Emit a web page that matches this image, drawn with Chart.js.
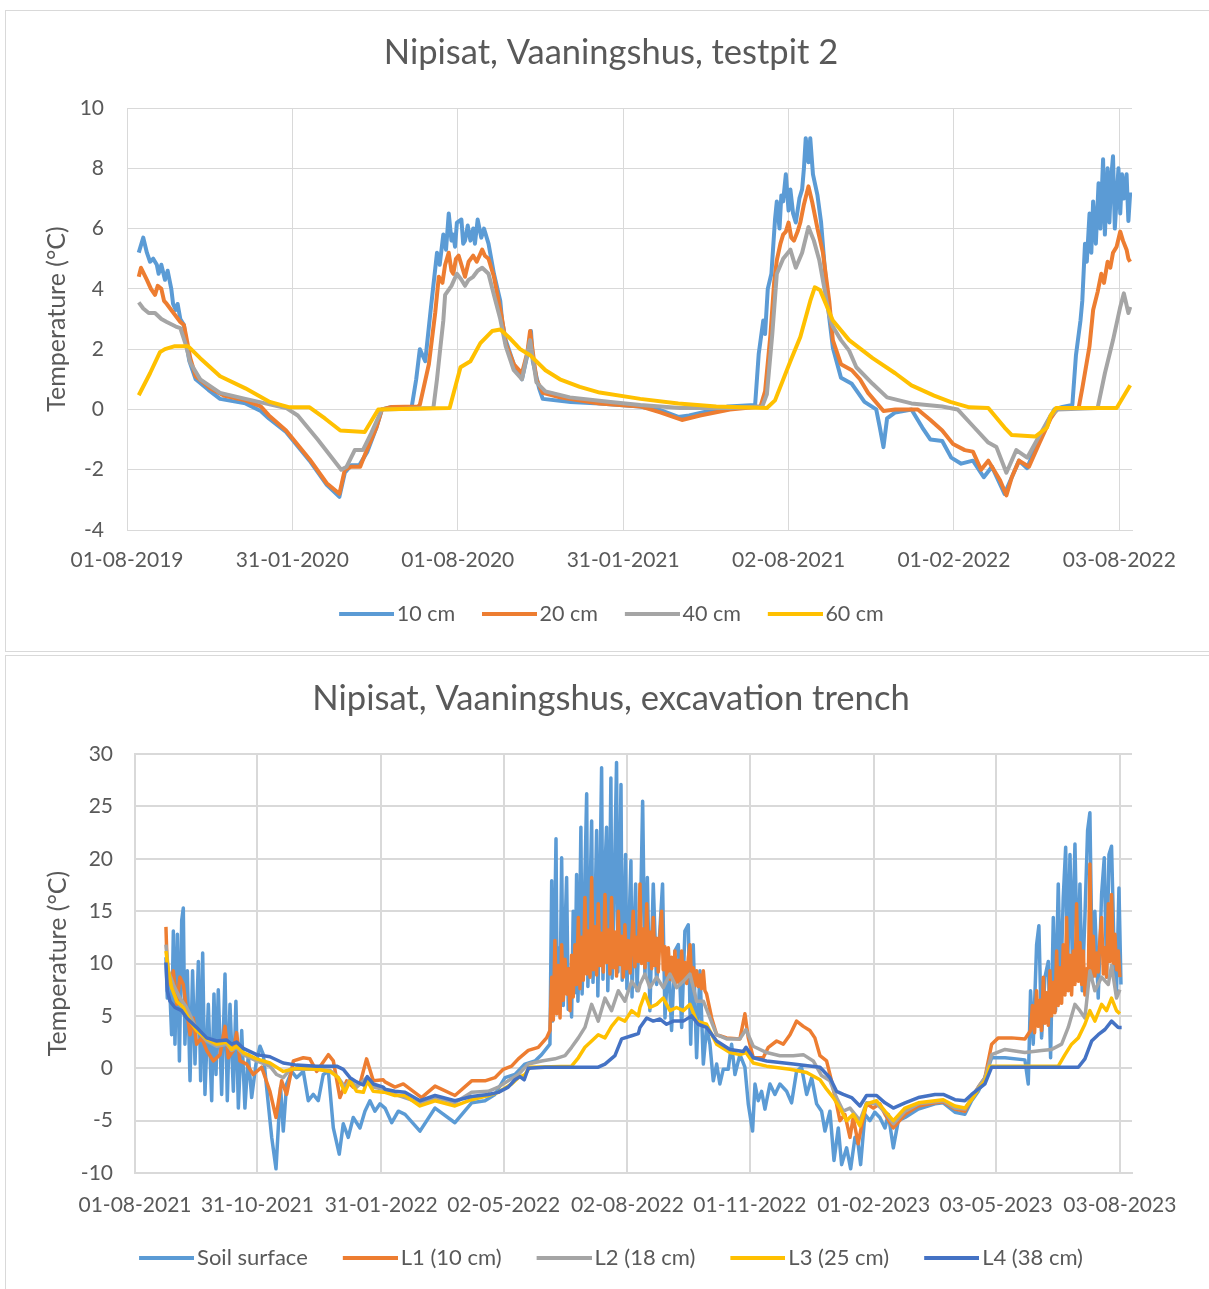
<!DOCTYPE html>
<html lang="en">

<head>
    <meta charset="UTF-8">
    <title>Nipisat, Vaaningshus</title>

    <script src="https://cdn.jsdelivr.net/npm/chart.js"></script> <!-- Chart.js -->

    <style>
        html, body { margin: 0; padding: 0; background: #fff; overflow: hidden; }
        .frame { position: absolute; left: 5px; width: 1216px; border: 1px solid #d9d9d9; box-sizing: border-box; }
        #frameTop { top: 10px; height: 642px; }
        #frameBottom { top: 655px; height: 640px; }
        canvas { position: absolute; left: 0; }
        #pitChart { top: 0; }
        #trenchChart { top: 655px; }
    </style>
</head>

<body>

    <div class="frame" id="frameTop"></div>
    <div class="frame" id="frameBottom"></div>

    <canvas id="pitChart" width="1222" height="640"></canvas>
    <canvas id="trenchChart" width="1222" height="630"></canvas>

<script>

    // ---- Testpit 2 (x = days after 01-08-2019) ----

    var pitTickLabels = ['01-08-2019', '31-01-2020', '01-08-2020', '31-01-2021', '02-08-2021', '01-02-2022', '03-08-2022'];
    var pitLastDay = 1112;

    var pit10 = [[13,5.2],[18,5.7],[22,5.2],[25.5,4.9],[29,5.0],[33,4.8],[35,4.5],[38,4.8],[42,4.3],[45,4.6],[49,4.0],[51,3.5],[54,3.3],[56,3.5],[59,3.0],[63,2.8],[65,2.3],[69,1.6],[76,1.0],[90,0.65],[103,0.35],[131,0.2],[148,-0.05],[157,-0.3],[176,-0.75],[202,-1.7],[221,-2.5],[235,-2.9],[241,-2.1],[248,-1.85],[257,-1.85],[266,-1.4],[276,-0.6],[282,0],[293,0.08],[315,0.08],[320,1.0],[324,2.0],[330,1.6],[336,3.3],[343,5.2],[346,4.8],[350,5.8],[353,5.3],[356,6.5],[359,5.6],[361,5.8],[363,5.4],[365,6.2],[370,6.3],[372,5.5],[374,5.6],[377,6.1],[380,5.6],[383,6.0],[385,5.5],[388,6.3],[392,5.7],[395,6.0],[400,5.5],[406,4.5],[413,3.6],[415,2.95],[419,2.3],[428,1.5],[437,1.0],[443,1.8],[447,2.6],[449,1.6],[456,0.7],[460,0.35],[491,0.25],[523,0.2],[567,0.1],[588,0],[610,-0.25],[622,-0.2],[644,-0.05],[665,0.1],[695,0.15],[699,1.85],[704,2.95],[706,2.5],[709,4.0],[713,4.5],[715,5.4],[717,6.3],[719,6.9],[722,6.0],[724,7.1],[726,6.9],[729,7.8],[732,6.6],[734,7.3],[737,6.5],[740,6.2],[744,7.0],[747,7.3],[749,8.0],[751,9.0],[754,8.2],[756,9.0],[759,7.8],[764,7.1],[768,6.2],[772,4.7],[777,3.05],[781,2.05],[790,1.05],[802,0.85],[816,0.25],[829,0],[833,-0.6],[837,-1.25],[841,-0.3],[850,-0.1],[868,0],[880,-0.6],[889,-1.0],[902,-1.05],[912,-1.6],[923,-1.8],[936,-1.7],[948,-2.25],[957,-1.9],[971,-2.8],[979,-2.25],[987,-1.7],[996,-1.95],[1005,-1.25],[1018,-0.45],[1026,0],[1035,0.08],[1046,0.15],[1050,1.8],[1055,2.95],[1057,3.6],[1060,5.5],[1062,4.9],[1065,6.5],[1067,5.2],[1069,6.9],[1072,5.5],[1075,7.5],[1077,6.0],[1080,8.3],[1082,5.8],[1085,8.0],[1087,6.2],[1089,7.7],[1091,8.4],[1093,6.0],[1097,8.0],[1099,6.5],[1101,7.8],[1103,7.0],[1106,7.8],[1108,6.25],[1110,7.2]];

    var pit20 = [[13,4.4],[15.5,4.7],[22,4.3],[26.5,4.0],[31,3.8],[34,4.1],[38,4.0],[41,3.6],[44,3.5],[49,3.3],[54,3.1],[59,2.9],[63,2.8],[65,2.5],[70,1.7],[76,1.1],[92,0.7],[108,0.45],[131,0.3],[148,0.1],[157,-0.2],[176,-0.7],[202,-1.65],[221,-2.45],[235,-2.8],[241,-2.0],[248,-1.9],[258,-1.9],[266,-1.3],[276,-0.6],[282,0],[293,0.08],[322,0.1],[324,0.15],[334,1.5],[341,3.2],[345,4.4],[349,4.2],[352,4.8],[356,5.2],[359,4.6],[361,4.5],[364,5.0],[367,5.1],[371,4.7],[374,4.4],[378,4.9],[383,5.1],[387,4.9],[393,5.3],[396,5.1],[400,5.0],[406,4.4],[415,3.0],[419,2.2],[428,1.5],[437,1.2],[443,1.9],[446,2.6],[453,1.0],[460,0.55],[479,0.4],[523,0.2],[568,0.1],[590,-0.1],[614,-0.35],[634,-0.2],[667,0],[701,0.1],[706,0.6],[712,2.5],[716,4.2],[719,4.95],[723,5.5],[726,5.8],[729,5.9],[732,6.2],[735,5.7],[738,5.6],[742,5.9],[745,6.2],[749,6.8],[754,7.4],[758,6.9],[764,6.0],[770,5.2],[777,3.6],[781,2.3],[790,1.5],[802,1.3],[811,1.0],[820,0.55],[837,-0.05],[850,0],[875,0],[889,-0.35],[902,-0.7],[914,-1.15],[927,-1.35],[936,-1.4],[945,-2.0],[953,-1.7],[966,-2.35],[973,-2.85],[979,-2.25],[987,-1.7],[998,-1.9],[1009,-1.15],[1022,-0.3],[1030,0.05],[1053,0.05],[1057,0.7],[1065,2.1],[1069,3.3],[1074,3.9],[1078,4.5],[1081,4.2],[1085,4.9],[1088,4.7],[1091,5.2],[1095,5.4],[1099,5.9],[1102,5.6],[1106,5.3],[1108,5.0],[1110,4.9]];

    var pit40 = [[13,3.55],[18,3.35],[24,3.2],[31,3.2],[38,3.0],[44,2.9],[54,2.75],[59,2.7],[65,2.15],[70,1.55],[81,1.0],[103,0.55],[131,0.35],[153,0.2],[176,0.05],[189,-0.2],[211,-1.0],[237,-2.0],[243,-1.9],[252,-1.35],[261,-1.35],[270,-0.8],[282,0],[339,0.05],[343,1.0],[346,1.85],[350,2.95],[352,3.8],[359,4.1],[365,4.5],[370,4.3],[374,4.1],[378,4.3],[383,4.4],[388,4.6],[393,4.7],[400,4.5],[406,3.8],[413,3.0],[419,2.1],[428,1.3],[437,1.0],[446,2.3],[453,0.9],[463,0.6],[490,0.4],[535,0.25],[568,0.15],[612,0.05],[667,0.05],[703,0.1],[708,0.5],[714,2.5],[719,4.5],[726,5.0],[734,5.3],[740,4.7],[747,5.2],[754,6.05],[760,5.6],[766,4.95],[772,3.95],[777,3.1],[781,2.75],[790,2.3],[799,1.95],[807,1.4],[825,0.85],[841,0.4],[868,0.2],[902,0.1],[919,0],[936,-0.55],[953,-1.1],[962,-1.25],[973,-2.1],[984,-1.35],[996,-1.6],[1009,-0.9],[1022,-0.2],[1030,0],[1074,0.05],[1082,1.2],[1091,2.3],[1099,3.4],[1103,3.85],[1108,3.2],[1110,3.4]];

    var pit60 = [[13,0.47],[25.5,1.2],[36.5,1.9],[42,2.0],[53,2.1],[67.5,2.1],[81,1.7],[103,1.1],[131,0.7],[158,0.25],[180,0.07],[202,0.07],[219,-0.3],[236,-0.7],[263,-0.75],[271,-0.35],[278,0],[357,0.05],[369,1.4],[380,1.6],[391,2.2],[404,2.6],[413,2.65],[424,2.35],[435,2.0],[446,1.8],[463,1.3],[479,1.0],[501,0.75],[523,0.56],[568,0.35],[610,0.2],[652,0.1],[708,0.05],[717,0.3],[734,1.6],[745,2.4],[756,3.6],[761,4.05],[767,3.95],[781,2.95],[799,2.3],[825,1.7],[850,1.2],[868,0.8],[893,0.46],[911,0.25],[932,0.07],[953,0.05],[971,-0.6],[979,-0.85],[1005,-0.9],[1018,-0.6],[1022,-0.2],[1028,0.05],[1095,0.05],[1110,0.8]];

    // ---- Excavation trench (x = days after 01-08-2021) ----

    var trenchTickLabels = ['01-08-2021', '31-10-2021', '31-01-2022', '02-05-2022', '02-08-2022', '01-11-2022', '01-02-2023', '03-05-2023', '03-08-2023'];
    var trenchLastDay = 741;

    var trenchSoil = [[23,10.6],[24,6.7],[25.5,8.7],[27.2,3.2],[28.5,13.1],[29.7,2.3],[31.5,12.8],[33,0.7],[34.7,14.1],[35.9,15.3],[37.1,2.3],[38.9,9.3],[40.9,-1.2],[42.8,9.3],[44.6,0.4],[47.1,10.2],[48.8,-1.2],[50.3,11.0],[52,-2.5],[54.5,6.1],[57,-3.1],[58.7,7.1],[60.2,-0.6],[61.9,7.5],[64.4,-2.5],[66.9,9.0],[68.6,-3.1],[70.6,6.1],[73.1,-2.2],[75,6.4],[76.8,-3.8],[79.3,3.6],[81.7,-3.8],[84.2,1.3],[86.7,-2.8],[89.9,0.4],[92.9,2.1],[95.4,1.3],[97.8,-1.8],[101.6,-6.6],[104.8,-9.6],[106.5,-5.7],[108.2,-1.8],[110.2,-6.0],[112.7,-1.5],[116.4,-0.3],[120.1,-0.9],[125.1,-0.3],[128.8,-3.1],[132.5,-2.5],[136.2,-3.1],[139.9,-0.6],[143.7,-0.3],[147.4,-5.7],[151.8,-8.2],[154.8,-5.3],[158.5,-6.6],[162.2,-4.7],[167.2,-5.7],[170.9,-4.1],[174.6,-3.1],[178.3,-4.1],[182.1,-3.4],
        [185.8,-3.8],[190.8,-5.2],[195.7,-4.1],[200.7,-4.4],[211.8,-6.0],[223,-3.8],[237.8,-5.2],[250.2,-3.3],[260.1,-3.1],[267.5,-2.5],[275,-0.9],[282.4,-0.6],[289.8,0.4],[297.3,0.7],[302.2,1.3],[308.4,2.3],
        [309.7,17.9],[310.3,4.5],[311.5,9.8],[312.9,21.9],[313.8,6.2],[314.6,11.5],[315.8,5.8],[317.1,20.1],[318.3,6.0],[319.5,12.8],[320.8,18.2],[322,5.6],[323.3,9.5],[324.5,4.9],[325.7,15.0],[327,7.2],[328.2,18.5],[329.2,6.4],[330.3,12.0],[331.4,23.0],[332.3,7.1],[333.6,13.5],[335.7,26.2],[336.6,7.8],[337.8,14.2],[339.4,23.6],[340.4,8.2],[341.6,12.9],[343.1,22.7],[344,6.9],[345.3,15.8],[346.8,28.7],[347.8,8.5],[348.8,17.5],[350.5,23.0],[351.4,7.4],[352.5,13.8],[353.7,27.7],[354.6,8.6],[355.8,14.6],[357.9,29.2],[358.9,9.2],[360,16.4],[361.2,27.1],[362.1,8.4],[363.3,13.2],[364.6,20.4],[365.6,7.6],[366.8,12.1],[368.6,19.8],[369.4,6.8],[370.5,11.9],[372.1,17.6],[373.1,7.4],[374.1,11.0],
        [375.3,11.8],[377.3,25.5],[379,8.7],[380.8,18.2],[382.7,5.5],[385.2,17.6],[387.7,8.0],[390.2,13.4],[392.1,17.6],[393.9,4.8],[396.4,10.6],[398.8,3.6],[401.3,11.2],[403.8,11.8],[406.3,3.9],[408.7,13.1],[411.2,13.7],[413,2.3],[414.9,11.8],[417.4,1.0],[419.9,9.3],[422.4,0.4],[424.8,3.9],[427.3,2.3],[429.8,-1.2],[432.3,0.4],[434.7,-1.5],[437.2,-0.1],[440.9,-0.1],[443.4,2.3],[445.9,-0.6],[449.6,1.3],[453.3,0.1],[455.8,-3.4],[459,-6.0],[460.8,-1.5],[463.2,-3.1],[465.7,-2.2],[468.2,-3.9],[471.9,-1.5],[475.6,-2.5],[479.3,-1.5],[484.3,-2.2],[488,-3.3],[491.7,-0.3],[495.4,0.1],[499.2,-2.5],[502.9,-0.9],[506.6,-3.4],[510.3,-4.1],[512.8,-6.0],[516.5,-4.1],[519.5,-8.8],[522.7,-5.7],[525.2,-9.2],[528.9,-7.6],[531.9,-9.6],[535.1,-6.6],[537.5,-7.3],[539.3,-9.2],[542.5,-4.4],[546.2,-5.0],[549.9,-4.2],[553.6,-4.7],
        [557.4,-5.7],[559.9,-4.4],[563.6,-7.6],[567.3,-5.0],[572.3,-4.7],[582.2,-3.9],[594.6,-3.4],[600.7,-3.3],[609.4,-4.2],[616.8,-4.4],[621.8,-3.1],[626.8,-2.2],[631.7,-0.9],[636.7,1.0],[646.6,1.0],[661.4,0.8],[663.9,-1.5],[665.6,7.4],[667.6,2.3],[670.1,11.8],[671.8,13.6],[673.8,2.9],[676.3,8.7],[678.8,10.2],[680.5,1.0],[682.5,14.4],[684.2,5.5],[686.2,17.6],[687.9,7.1],[689.9,16.3],[691.7,21.1],[693.1,8.7],[694.9,20.4],[696.6,10.6],[698.6,21.4],[700.6,8.7],[702.3,17.6],[704,7.4],[706,14.4],[708,22.7],[709.7,24.4],[711.5,8.7],[713.4,15.0],[715.9,6.7],[718.4,16.6],[720.4,20.1],[722.1,8.7],[723.9,20.4],[725.8,21.2],[727.8,10.6],[729.5,7.4],[731.3,17.2],[732.8,8.0]];

    var trenchL1 = [[23,13.5],[24,9.3],[26,8.0],[28.5,9.3],[31,6.1],[33.4,8.7],[35.9,8.0],[38.4,5.5],[40.9,3.2],[43.3,4.8],[45.8,2.3],[49.5,2.9],[53.3,1.7],[58.2,0.7],[63.2,1.3],[66.9,4.0],[69.4,1.0],[73.1,1.7],[75.5,3.4],[78,0.7],[83,0.4],[87.9,-0.6],[94.1,0.1],[100.3,-2.2],[104.8,-4.7],[109,-1.2],[112.7,-2.5],[117.7,0.7],[125.1,1.0],[130,0.9],[135,-0.3],[143.7,1.3],[147.4,0.7],[152.3,-2.8],[157.3,-1.2],[162.2,-1.8],[167.2,-1.5],[172.1,0.9],[177.1,-1.2],[184.5,-1.1],
        [185.8,-1.3],[193.2,-1.8],[199.4,-1.5],[213,-2.8],[223,-1.7],[237.8,-2.6],[250.2,-1.2],[260.1,-1.2],[267.5,-0.9],[273.7,-0.1],[279.9,0.2],[284.9,0.9],[292.3,1.7],[299.7,2.0],[305.9,2.9],[308.4,3.6],
        [309.7,8.7],[310.9,4.6],[312.1,12.2],[313.4,5.2],[314.6,9.8],[315.9,4.8],[317.1,11.8],[318.3,6.5],[319.6,10.4],[320.8,7.1],[322,9.5],[323.3,5.5],[324.5,10.8],[325.7,6.8],[327,11.8],[328.2,8.0],[329.5,14.4],[330.7,7.6],[331.9,12.5],[333.2,8.4],[334.4,16.3],[335.7,9.0],[336.9,13.1],[338.2,8.7],[339.4,18.2],[340.6,9.4],[341.9,13.5],[343.1,8.9],[344.3,15.7],[345.6,9.8],[346.8,12.9],[348.1,9.2],[349.3,16.6],[350.5,10.1],[351.8,13.2],[353,9.0],[354.2,16.3],[355.5,9.6],[356.7,13.0],[357.9,8.8],[359.2,15.0],[360.4,9.9],[361.7,12.6],[362.9,8.7],[364.1,13.7],[365.4,9.5],[366.6,12.2],[368,9.1],[370.3,15.0],[371.5,9.7],[372.8,12.5],[374.1,10.2],
        [375.3,17.6],[376.5,10.0],[377.8,13.3],[379,9.6],[380.3,15.7],[381.5,10.3],[382.7,13.0],[384,9.5],[385.2,14.4],[386.4,9.8],[387.7,12.4],[388.9,9.2],[390.2,12.7],[391.4,15.0],[392.6,9.4],[393.9,11.6],[395.1,8.9],[396.4,11.5],[397.6,8.5],[398.8,10.6],[400.1,8.3],[401.3,11.2],[402.5,8.2],[403.8,10.3],[405,8.0],[406.3,11.2],[407.5,8.4],[408.7,10.1],[410,8.1],[411.2,10.5],[412.5,11.8],[413.7,8.3],[414.9,9.6],[416.2,7.9],[417.4,9.3],[418.6,7.8],[419.9,8.9],[421.1,7.6],[422.4,9.3],[423.6,7.4],[424.8,7.1],[428.6,4.8],[432.3,3.2],[439.7,2.9],[449.6,2.8],[453.3,5.2],[455.8,2.9],[459.5,1.0],[466.9,1.0],[470.7,2.0],[476.9,2.6],[481.8,2.3],[486.8,3.2],[491.7,4.5],[496.7,4.0],[501.6,3.6],[505.3,2.9],[509.1,1.2],[514,0.7],[517.7,-1.2],[521.4,-3.4],[523.9,-5.0],[527.6,-4.4],[531.4,-6.6],[533.8,-4.7],[537.5,-7.2],[540,-5.5],[543.7,-3.4],[548.7,-3.8],[553.6,-3.4],
        [557.4,-4.4],[563.6,-5.7],[572.3,-4.4],[582.2,-3.6],[594.6,-3.3],[600.7,-3.2],[609.4,-3.9],[616.8,-4.1],[621.8,-2.8],[626.8,-1.8],[631.7,-0.9],[636.7,2.3],[641.6,2.9],[651.5,2.9],[661.4,2.8],[665.6,3.6],[667,6.0],[668.6,3.4],[670.1,7.4],[671.3,4.0],[672.6,6.5],[673.8,3.6],[675.1,8.7],[676.3,4.3],[677.5,7.2],[678.8,4.1],[680,9.3],[681.2,5.0],[682.5,8.2],[683.7,5.3],[685,11.2],[686.2,6.0],[687.4,9.6],[688.7,6.2],[689.9,11.8],[691.2,7.0],[692.4,14.4],[693.6,7.4],[694.9,10.8],[696.1,7.0],[697.4,11.2],[698.6,8.0],[699.8,15.7],[701.1,8.3],[702.3,12.0],[703.6,8.0],[704.8,11.2],[706,7.0],[707.3,9.5],[708.5,8.2],[709.7,19.5],[711,9.0],[712.2,12.6],[713.4,8.8],[714.7,11.0],[715.9,9.2],[717.2,12.4],[718.4,14.4],[719.7,9.0],[720.9,11.5],[722.1,8.7],[723.4,15.7],[724.6,10.2],[725.8,16.6],[727.1,10.0],[728.3,12.8],[729.5,9.4],[730.8,11.2],[732,8.7]];

    var trenchL2 = [[23,11.8],[24.8,9.3],[28.5,8.0],[33.4,6.7],[38.4,5.8],[45.8,3.7],[53.3,2.6],[60.7,2.1],[68.1,2.3],[71.8,1.7],[75.5,2.0],[80.5,1.3],[90.4,0.7],[100.3,0.2],[105.3,-0.6],[110.2,-0.9],[115.2,-0.1],[135,-0.1],[144.9,-0.2],[151.1,-0.9],[156,-1.8],[159.8,-1.1],[164.7,-1.8],[172.1,-0.9],[177.1,-1.8],[184.5,-2.0],
        [185.8,-2.2],[193.2,-2.5],[211.8,-3.3],[223,-2.8],[237.8,-3.3],[250.2,-2.3],[262.6,-2.2],[270,-1.8],[277.4,-1.2],[284.9,-0.6],[292.3,0.4],[302.2,0.7],[312.1,0.9],[319.6,1.2],[324.5,2.0],[329.5,2.9],[334.4,3.9],[339.4,6.1],[344.3,4.5],[349.3,6.7],[354.2,5.5],[359.2,7.4],[364.1,6.4],[369.1,8.3],[374.1,7.4],
        [375.3,8.0],[379,9.0],[382.7,7.7],[387.7,8.7],[392.6,7.7],[397.6,9.0],[402.5,7.7],[407.5,8.3],[412.5,9.0],[417.4,6.4],[422.4,6.4],[427.3,4.8],[432.3,3.2],[439.7,2.8],[449.6,2.8],[454.1,3.7],[459.5,2.1],[469.4,1.5],[479.3,1.2],[489.2,1.2],[496.7,1.3],[504.1,0.7],[510.3,-0.7],[516.5,-1.2],[521.4,-2.8],[526.4,-4.1],[531.4,-3.8],[538.8,-5.0],[543.7,-3.3],[551.2,-3.4],
        [557.4,-4.2],[563.6,-5.3],[572.3,-4.1],[582.2,-3.4],[594.6,-3.2],[600.7,-3.1],[609.4,-3.8],[616.8,-3.9],[621.8,-2.8],[626.8,-1.8],[631.7,-0.9],[636.7,1.3],[646.6,1.8],[661.4,1.5],[673.8,1.7],[681.3,1.8],[688.7,2.3],[693.6,3.9],[698.6,6.1],[702.3,5.5],[706,4.8],[709.7,9.3],[713.4,7.4],[718.4,8.7],[723.4,8.0],[725.8,9.8],[729.5,6.7],[732,7.5]];

    var trenchL3 = [[23,11.2],[24.8,9.3],[27.2,7.7],[31,6.4],[35.9,5.8],[40.9,4.5],[45.8,3.6],[53.3,2.8],[60.7,2.3],[68.1,2.5],[71.8,1.8],[75.5,2.1],[80.5,1.5],[90.4,0.9],[100.3,0.5],[110.2,-0.3],[120.1,0],[135,-0.1],[144.9,-0.3],[151.1,-0.9],[156,-2.3],[159.8,-1.2],[164.7,-2.2],[169.7,-2.3],[172.6,-1.2],[177.1,-2.2],[184.5,-2.3],
        [185.8,-2.3],[193.2,-2.6],[200.7,-2.6],[211.8,-3.6],[223,-3.1],[237.8,-3.6],[250.2,-3.0],[262.6,-2.6],[270,-2.3],[279.9,-1.5],[284.9,-0.9],[289.8,-0.6],[293.5,0.1],[324.5,0.2],[329.5,1.0],[334.4,2.0],[339.4,2.6],[344.3,3.2],[349.3,2.9],[354.2,4.0],[359.2,4.8],[364.1,4.5],[369.1,5.5],[374.1,5.0],
        [375.3,5.8],[379,7.1],[382.7,5.8],[387.7,6.1],[392.6,6.7],[397.6,5.5],[402.5,5.8],[407.5,5.5],[412.5,6.1],[417.4,4.5],[424.8,4.2],[432.3,2.3],[442.2,1.5],[449.6,1.3],[454.1,1.5],[459.5,0.5],[469.4,0.2],[486.8,-0.1],[499.2,-0.4],[509.1,-1.1],[514,-2.0],[519,-2.8],[523.9,-3.8],[528.9,-5.0],[533.8,-4.4],[538.8,-5.5],[543.7,-3.4],[551.2,-3.1],
        [557.4,-4.1],[563.6,-5.0],[572.3,-3.8],[582.2,-3.3],[594.6,-3.1],[600.7,-3.0],[609.4,-3.6],[616.8,-3.8],[621.8,-3.0],[626.8,-2.0],[631.7,-1.2],[635.4,0.2],[686.2,0.2],[691.2,1.3],[696.1,2.3],[701.1,2.9],[706,4.2],[709.7,5.5],[713.4,4.5],[718.4,6.1],[722.1,5.5],[725.8,6.7],[729.5,5.5],[732,5.2]];

    var trenchL4 = [[23,10.1],[24,7.4],[26,6.4],[29.7,5.8],[34.7,5.5],[38.4,4.8],[45.8,3.9],[53.3,2.9],[60.7,2.6],[68.1,2.7],[71.8,2.3],[75.5,2.5],[80.5,1.9],[90.4,1.3],[100.3,1.1],[110.2,0.5],[120.1,0.3],[135,0.2],[149.9,0.2],[154.8,-0.1],[159.8,-0.9],[164.7,-1.3],[169.7,-1.6],[172.6,-0.8],[177.1,-1.5],[184.5,-1.8],
        [185.8,-2.0],[193.2,-2.2],[200.7,-2.3],[211.8,-3.1],[223,-2.6],[237.8,-3.1],[250.2,-2.7],[262.6,-2.5],[270,-2.3],[277.4,-1.8],[282.4,-1.1],[286.1,-0.8],[289.3,-1.1],[292.3,0],[304.7,0.1],[344.3,0.1],[349.3,0.4],[356.7,1.2],[361.7,2.8],[369.1,3.1],[374.1,3.3],
        [375.3,3.9],[380.3,4.8],[385.2,4.5],[390.2,4.7],[395.1,4.2],[400.1,4.5],[407.5,4.5],[413.7,5.0],[418.6,4.2],[424.8,3.9],[432.3,2.6],[442.2,1.8],[452.1,1.6],[454.1,2.0],[459.5,1.0],[469.4,0.7],[489.2,0.4],[509.1,0.1],[516.5,-0.9],[521.4,-2.2],[526.4,-2.5],[532.6,-2.8],[538.8,-3.6],[543.7,-2.6],[551.2,-2.6],
        [557.4,-3.3],[563.6,-3.8],[572.3,-3.3],[582.2,-2.8],[594.6,-2.5],[600.7,-2.5],[609.4,-3.0],[616.8,-3.1],[621.8,-2.5],[626.8,-2.0],[631.7,-1.5],[636.7,0.1],[696.1,0.1],[701.1,0.1],[706,0.9],[711,2.6],[715.9,3.2],[720.9,3.7],[725.8,4.5],[730.8,3.9],[733.3,3.9]];


    // ---- Shared look ----

    var FONT = 'Lato, "Open Sans", sans-serif';
    var TEXT = '#595959';
    var GRID = '#d9d9d9';

    // days between two dd-mm-yyyy dates
    function dayOf(label, first) {
        var toUtc = function (s) {
            var p = s.split('-').map(Number);
            return Date.UTC(p[2], p[1] - 1, p[0]);
        };
        return Math.round((toUtc(label) - toUtc(first)) / 86400000);
    }

    // legend symbol: a 55px line at the right end of a wider, transparent image,
    // so the symbol sits close to its text
    function legendLine(color, imgWidth) {
        var c = document.createElement('canvas');
        c.width = imgWidth;
        c.height = 4;
        var g = c.getContext('2d');
        g.fillStyle = color;
        g.fillRect(imgWidth - 55, 0, 55, 4);
        return c;
    }

    function series(label, points, color, width, order, symbolWidth) {
        return {
            label: label,
            data: points.map(function (p) { return { x: p[0], y: p[1] }; }),
            borderColor: color,
            backgroundColor: color,
            borderWidth: width,
            borderJoinStyle: 'round',
            pointRadius: 0,
            pointHoverRadius: 0,
            pointStyle: legendLine(color, symbolWidth),
            tension: 0,
            order: order // first series drawn underneath
        };
    }

    // p: sizes for one chart panel
    function buildChart(canvasId, title, datasets, tickLabels, lastDay, yMin, yMax, yStep, p) {
        var tickDays = tickLabels.map(function (t) { return dayOf(t, tickLabels[0]); });

        return new Chart(document.getElementById(canvasId), {
            type: 'line',
            data: { datasets: datasets },
            options: {
                responsive: false,
                animation: false,
                devicePixelRatio: 1,
                events: [],
                layout: { padding: { left: 0, right: 0, top: 0, bottom: p.bottomPad } },
                plugins: {
                    title: {
                        display: true,
                        text: title,
                        color: TEXT,
                        font: { family: FONT, size: p.titleSize, weight: 'normal' },
                        padding: { top: p.titleTop, bottom: p.titleBottom }
                    },
                    legend: {
                        position: 'bottom',
                        labels: {
                            usePointStyle: true,
                            pointStyleWidth: p.legendBox,
                            color: TEXT,
                            font: { family: FONT, size: p.legendSize },
                            padding: p.legendGap,
                            sort: function (a, b) { return a.datasetIndex - b.datasetIndex; }
                        }
                    },
                    tooltip: { enabled: false }
                },
                scales: {
                    x: {
                        type: 'linear',
                        min: 0,
                        max: lastDay,
                        afterBuildTicks: function (s) { s.ticks = tickDays.map(function (v) { return { value: v }; }); },
                        afterFit: function (s) { s.height = p.xHeight; },
                        ticks: {
                            autoSkip: false,
                            maxRotation: 0,
                            padding: p.xPad,
                            color: TEXT,
                            font: { family: FONT, size: p.tickSize },
                            callback: function (v, i) { return tickLabels[i]; }
                        },
                        grid: { color: GRID, lineWidth: p.gridWidth, drawTicks: false },
                        border: { color: GRID, width: p.gridWidth }
                    },
                    y: {
                        min: yMin,
                        max: yMax,
                        afterFit: function (s) { s.width = p.yWidth; },
                        ticks: {
                            stepSize: yStep,
                            padding: p.yPad,
                            color: TEXT,
                            font: { family: FONT, size: p.tickSize }
                        },
                        grid: { color: GRID, lineWidth: p.gridWidth, drawTicks: false },
                        border: { color: GRID, width: p.gridWidth },
                        title: {
                            display: true,
                            text: 'Temperature (°C)',
                            color: TEXT,
                            font: { family: FONT, size: p.yTitleSize },
                            padding: { top: p.yTitlePad, bottom: 0 }
                        }
                    },
                    // empty space right of the plot
                    yRight: {
                        position: 'right',
                        afterFit: function (s) { s.width = 90; },
                        ticks: { display: false },
                        grid: { display: false },
                        border: { display: false }
                    }
                }
            }
        });
    }

    buildChart('pitChart', 'Nipisat, Vaaningshus, testpit 2', [
        series('10 cm', pit10, '#5B9BD5', 4, 3, 64),
        series('20 cm', pit20, '#ED7D31', 4, 2, 64),
        series('40 cm', pit40, '#A5A5A5', 4, 1, 64),
        series('60 cm', pit60, '#FFC000', 4, 0, 64)
    ], pitTickLabels, pitLastDay, -4, 10, 2, {
        titleSize: 34.5, titleTop: 32.3, titleBottom: 34.3,
        tickSize: 21, legendSize: 21.5, legendGap: 26, legendBox: 47.75, bottomPad: 5.25,
        xHeight: 47.25, xPad: 17.4, yWidth: 127, yPad: 23,
        yTitleSize: 25, yTitlePad: 42, gridWidth: 1
    });

    buildChart('trenchChart', 'Nipisat, Vaaningshus, excavation trench', [
        series('Soil surface', trenchSoil, '#5B9BD5', 3.5, 4, 63),
        series('L1 (10 cm)', trenchL1, '#ED7D31', 3.5, 3, 63),
        series('L2 (18 cm)', trenchL2, '#A5A5A5', 3.5, 2, 63),
        series('L3 (25 cm)', trenchL3, '#FFC000', 3.5, 1, 63),
        series('L4 (38 cm)', trenchL4, '#4472C4', 3.5, 0, 63)
    ], trenchTickLabels, trenchLastDay, -10, 30, 5, {
        titleSize: 34.6, titleTop: 23.25, titleBottom: 34.25,
        tickSize: 21, legendSize: 22, legendGap: 35, legendBox: 47, bottomPad: 6,
        xHeight: 39, xPad: 19.4, yWidth: 135, yPad: 22,
        yTitleSize: 25, yTitlePad: 43, gridWidth: 2
    });

</script>

</body>

</html>
